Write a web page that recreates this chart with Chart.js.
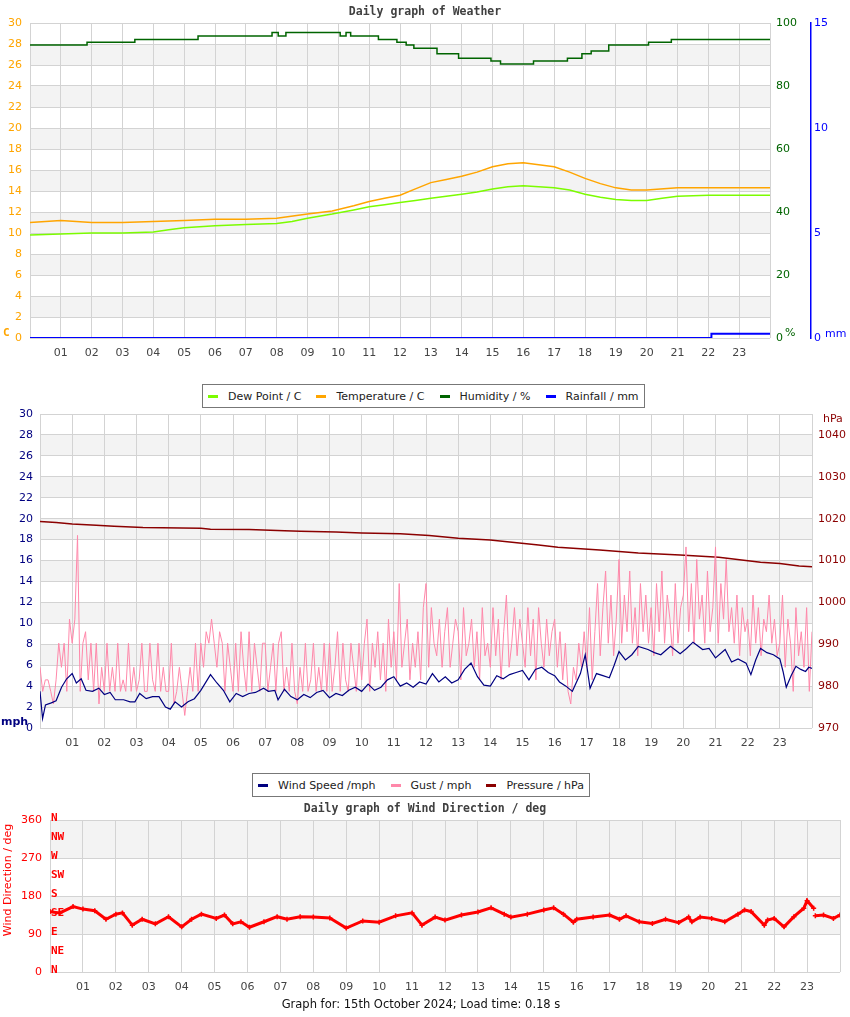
<!DOCTYPE html>
<html>
<head>
<meta charset="utf-8">
<title>Daily graph of Weather</title>
<script src="https://cdn.jsdelivr.net/npm/chart.js@4.4.1/dist/chart.umd.min.js"></script>
<style>
    body { margin: 0; background: #fff; width: 850px; height: 1017px; position: relative; overflow: hidden; font-family: "DejaVu Sans", sans-serif; }
    canvas { position: absolute; left: 0; }
    #weather { top: 0; }
    #wind { top: 400px; }
    #direction { top: 800px; }
    .legend { position: absolute; z-index: 2; height: 24px; box-sizing: border-box; border: 1px solid #777; background: #fff;
              display: flex; align-items: center; padding: 0 5px; font-size: 11px; color: #222; white-space: nowrap; }
    .legend .item { display: flex; align-items: center; margin-right: 15px; }
    .legend .item:last-child { margin-right: 0; }
    .legend .mark { width: 10px; height: 3px; margin-right: 10px; }
    #legendWeather { left: 202px; top: 384px; }
    #legendWind { left: 252px; top: 773px; }
</style>
</head>
<body>
<canvas id="weather" width="850" height="370"></canvas>
<canvas id="wind" width="850" height="360"></canvas>
<canvas id="direction" width="850" height="217"></canvas>
<div class="legend" id="legendWeather"></div>
<div class="legend" id="legendWind"></div>
<script>
// ---- data (hours since midnight) ----
const tempHours = [0, 1, 1.5, 2, 3, 4, 5, 6, 7, 8, 9, 9.8, 10.5, 11, 11.5, 12, 12.5, 13, 13.5, 14, 14.5, 15, 15.5, 16, 16.5, 17, 17.5, 18, 18.5, 19, 19.5, 20, 21, 22, 23, 24];
const temperature = [11.0, 11.2, 11.1, 11.0, 11.0, 11.1, 11.2, 11.3, 11.3, 11.4, 11.8, 12.1, 12.6, 13.0, 13.3, 13.6, 14.2, 14.8, 15.1, 15.4, 15.8, 16.3, 16.6, 16.7, 16.5, 16.3, 15.8, 15.2, 14.7, 14.3, 14.1, 14.1, 14.3, 14.3, 14.3, 14.3];

const dewHours = [0, 1, 2, 3, 4, 4.5, 5, 6, 7, 8, 8.5, 9, 9.8, 10.5, 11, 11.5, 12, 12.5, 13, 13.5, 14, 14.5, 15, 15.5, 16, 16.5, 17, 17.5, 18, 18.5, 19, 19.5, 20, 20.5, 21, 22, 23, 24];
const dewPoint = [9.8, 9.9, 10.0, 10.0, 10.1, 10.3, 10.5, 10.7, 10.8, 10.9, 11.1, 11.4, 11.8, 12.2, 12.5, 12.7, 12.9, 13.1, 13.3, 13.5, 13.7, 13.9, 14.2, 14.4, 14.5, 14.4, 14.3, 14.1, 13.7, 13.4, 13.2, 13.1, 13.1, 13.3, 13.5, 13.6, 13.6, 13.6];

const humHours = [0, 1.85, 3.4, 5.45, 7.85, 8.05, 8.3, 10.06, 10.25, 10.4, 11.3, 11.9, 12.2, 12.45, 13.2, 13.9, 14.95, 15.26, 16.33, 17.43, 17.9, 18.2, 18.77, 20.06, 20.8, 24];
const humidity = [93.0, 93.9, 94.8, 95.9, 97.0, 95.9, 97.0, 95.9, 97.0, 95.9, 94.8, 93.9, 93.0, 92.0, 90.2, 88.8, 87.9, 87.0, 87.9, 88.8, 90.2, 91.1, 93.0, 93.9, 94.8, 94.8];

const rainHours = [0, 22.1, 24];
const rainfall = [0, 0.2, 0.2];

const windHours = [0, 0.08, 0.17, 0.35, 0.5, 0.67, 0.83, 1.0, 1.13, 1.28,
    1.43, 1.63, 1.83, 2.0, 2.18, 2.34, 2.6, 2.8, 2.95, 3.1,
    3.3, 3.5, 3.7, 3.9, 4.05, 4.2, 4.4, 4.6, 4.8, 5.0,
    5.2, 5.3, 5.5, 5.7, 5.9, 6.1, 6.3, 6.5, 6.7, 6.95,
    7.1, 7.3, 7.4, 7.6, 7.8, 8.0, 8.2, 8.4, 8.6, 8.8,
    9.0, 9.2, 9.4, 9.6, 9.8, 10.0, 10.2, 10.4, 10.6, 10.8,
    11.0, 11.2, 11.4, 11.6, 11.8, 12.0, 12.2, 12.4, 12.6, 12.8,
    13.0, 13.2, 13.4, 13.6, 13.8, 14.0, 14.2, 14.4, 14.6, 14.8,
    15.0, 15.2, 15.4, 15.6, 15.8, 16.0, 16.15, 16.35, 16.55, 16.8,
    16.95, 17.1, 17.3, 17.5, 17.7, 17.85, 18.0, 18.2, 18.4, 18.6,
    18.9, 19.1, 19.3, 19.6, 19.9, 20.1, 20.3, 20.6, 20.8, 21.0,
    21.3, 21.5, 21.7, 21.95, 22.1, 22.25, 22.4, 22.6, 22.8, 23.0,
    23.1, 23.2, 23.35, 23.5, 23.65, 23.8, 23.9, 24.0];
const windSpeed = [3.5, 0.9, 2.2, 2.4, 2.6, 3.9, 4.7, 5.2, 4.3, 4.7,
    3.6, 3.5, 3.8, 3.2, 3.4, 2.7, 2.7, 2.5, 2.5, 3.3,
    2.8, 3.0, 3.0, 2.0, 1.8, 2.5, 2.0, 2.5, 2.8, 3.6,
    4.6, 5.1, 4.3, 3.6, 2.5, 3.3, 3.0, 3.3, 3.4, 3.8,
    3.5, 3.6, 2.7, 3.7, 3.0, 2.7, 3.2, 2.9, 3.4, 3.6,
    2.9, 3.3, 3.1, 3.6, 3.9, 3.5, 4.2, 3.6, 3.9, 4.6,
    4.9, 4.0, 4.3, 3.9, 4.4, 4.2, 5.2, 4.4, 4.9, 4.3,
    4.6, 5.6, 6.2, 4.9, 4.1, 4.0, 5.0, 4.7, 5.1, 5.3,
    5.5, 4.6, 5.6, 5.8, 5.3, 5.0, 4.4, 4.0, 3.5, 5.2,
    7.0, 3.8, 5.2, 5.0, 4.8, 6.0, 7.3, 6.5, 7.0, 7.8,
    7.5, 7.2, 7.0, 7.8, 7.1, 7.6, 8.2, 7.5, 7.6, 6.7,
    7.5, 6.3, 6.6, 6.2, 5.1, 6.5, 7.6, 7.2, 7.0, 6.6,
    5.4, 3.9, 5.0, 5.9, 5.6, 5.4, 5.8, 5.7];

// gust sampled every 5 minutes, one row per hour
const gustMinutes = 5;
const gust = [5.8, 3.5, 4.6, 4.6, 3.5, 2.3, 4.6, 8.1, 5.8, 8.1, 3.5, 10.4,
    8.1, 10.4, 18.4, 3.5, 8.1, 9.2, 4.6, 8.1, 3.5, 8.1, 2.3, 5.8,
    3.5, 8.1, 3.5, 5.8, 3.5, 8.1, 3.5, 4.6, 3.5, 8.1, 3.5, 5.8,
    3.5, 4.6, 8.1, 3.5, 3.5, 8.1, 4.6, 3.5, 8.1, 3.5, 5.8, 3.5,
    3.5, 8.1, 2.3, 3.5, 5.8, 3.5, 1.2, 3.5, 5.8, 3.5, 8.1, 3.5,
    8.1, 5.8, 9.2, 8.1, 10.4, 8.1, 5.8, 9.2, 8.1, 3.5, 8.1, 5.8,
    3.5, 8.1, 3.5, 9.2, 5.8, 3.5, 9.2, 3.5, 8.1, 5.8, 3.5, 8.1,
    8.1, 3.5, 5.8, 8.1, 3.5, 8.1, 9.2, 3.5, 5.8, 3.5, 8.1, 3.5,
    2.3, 5.8, 3.5, 8.1, 3.5, 4.6, 8.1, 3.5, 5.8, 3.5, 8.1, 3.5,
    8.1, 3.5, 5.8, 9.2, 3.5, 8.1, 4.6, 3.5, 8.1, 5.8, 3.5, 8.1,
    4.6, 8.1, 10.4, 3.5, 8.1, 5.8, 9.2, 4.6, 8.1, 3.5, 10.4, 5.8,
    9.2, 4.6, 13.8, 5.8, 8.1, 10.4, 4.6, 8.1, 5.8, 9.2, 4.6, 11.5,
    13.8, 5.8, 11.5, 8.1, 6.9, 10.4, 5.8, 9.2, 11.5, 5.8, 8.1, 10.4,
    9.2, 4.6, 11.5, 6.9, 8.1, 10.4, 5.8, 9.2, 4.6, 11.5, 6.9, 8.1,
    5.8, 11.5, 6.9, 10.4, 4.6, 9.2, 12.7, 5.8, 8.1, 11.5, 6.9, 10.4,
    8.1, 5.8, 11.5, 6.9, 10.4, 4.6, 11.5, 8.1, 5.8, 10.4, 6.9, 9.2,
    10.4, 5.8, 9.2, 4.6, 8.1, 3.5, 2.3, 5.8, 4.6, 8.1, 5.8, 9.2,
    5.8, 11.5, 4.6, 9.2, 13.8, 6.9, 11.5, 15.0, 8.1, 12.7, 6.9, 10.4,
    16.1, 8.1, 12.7, 9.2, 15.0, 8.1, 11.5, 6.9, 13.8, 9.2, 12.7, 8.1,
    11.5, 6.9, 13.8, 9.2, 15.0, 8.1, 12.7, 10.4, 6.9, 13.8, 8.1, 11.5,
    12.7, 17.3, 9.2, 13.8, 8.1, 16.1, 10.4, 12.7, 8.1, 15.0, 9.2, 11.5,
    17.3, 8.1, 13.8, 10.4, 16.1, 9.2, 11.5, 8.1, 12.7, 6.9, 11.5, 9.2,
    10.4, 6.9, 12.7, 8.1, 11.5, 6.9, 10.4, 9.2, 12.7, 8.1, 10.4, 6.9,
    8.1, 12.7, 5.8, 10.4, 8.1, 3.5, 11.5, 6.9, 9.2, 5.8, 11.5, 3.5,
    9.2];

const pressHours = [0, 0.5, 1, 1.75, 2.3, 3.2, 5, 5.3, 6.5, 7.6, 8.1, 9.2, 10, 11.2, 12.1, 13, 14, 14.9, 15.5, 16.1, 17.4, 18.6, 19.9, 21.1, 22.4, 23, 23.6, 24];
const pressure = [1019.3, 1019.1, 1018.7, 1018.4, 1018.2, 1017.9, 1017.7, 1017.5, 1017.4, 1017.1, 1017.0, 1016.8, 1016.6, 1016.4, 1016.0, 1015.3, 1014.9, 1014.2, 1013.7, 1013.2, 1012.5, 1011.8, 1011.3, 1010.8, 1009.6, 1009.3, 1008.7, 1008.5];

const dirHours = [0, 0.3, 0.7, 1.0, 1.36, 1.7, 2.0, 2.2, 2.5, 2.8, 3.2, 3.6, 4.0, 4.3, 4.6, 5.05, 5.3, 5.55, 5.8, 6.06,
    6.5, 6.9, 7.2, 7.6, 8.0, 8.5, 9.0, 9.5, 10.0, 10.5, 11.0, 11.3, 11.7, 12.0, 12.5, 13.0, 13.4, 13.8, 14.0, 14.5,
    15.0, 15.3, 15.6, 15.9, 16.0, 16.5, 17.0, 17.3, 17.5, 17.9, 18.3, 18.7, 19.1, 19.4, 19.5, 19.75, 20.1, 20.5, 20.9, 21.1,
    21.3, 21.7, 21.8, 22.0, 22.3, 22.6, 22.9, 23.0, 23.2, 23.22, 23.25, 23.5, 23.8, 24];
const direction = [143, 140, 155, 149, 145, 125, 137, 140, 111, 125, 114, 131, 107, 125, 137, 127, 135, 114, 119, 106,
    119, 131, 125, 131, 130, 128, 104, 121, 118, 133, 140, 111, 130, 123, 135, 142, 152, 137, 130, 137,
    147, 152, 137, 118, 125, 130, 135, 125, 133, 119, 115, 125, 117, 130, 119, 130, 127, 119, 137, 147,
    143, 111, 123, 127, 107, 131, 151, 169, 151, null, 133, 135, 127, 135];

const compassNames = ["N", "NE", "E", "SE", "S", "SW", "W", "NW", "N"];
const compassDegrees = [0, 45, 90, 135, 180, 225, 270, 315, 360];

const gridColor = "#d3d3d3";
const tickFont = { family: "DejaVu Sans", size: 11 };
const titleFont = "bold 11.5px 'DejaVu Sans Mono'";

window.onload = function() {
    const weather = initWeather();
    const wind = initWind();
    initDirection();
    buildLegend("legendWeather", weather);
    buildLegend("legendWind", wind);
}

function toPoints(xs, ys) {
    return xs.map((x, i) => ({ x: x, y: ys[i] }));
}

function hourAxis() {
    return {
        type: "linear", min: 0, max: 24,
        grid: { color: gridColor, drawTicks: false },
        border: { display: false },
        ticks: {
            stepSize: 1, autoSkip: false, maxRotation: 0, color: "#444", font: tickFont, padding: 9,
            callback: v => (v > 0 && v < 24) ? String(v).padStart(2, "0") : ""
        },
        afterFit: s => { s.height = 32; }
    };
}

function bandsPlugin(axisId) {
    return {
        id: "bands",
        beforeDraw(chart) {
            const scale = chart.scales[axisId];
            const area = chart.chartArea;
            const ctx = chart.ctx;
            ctx.save();
            ctx.fillStyle = "#f3f3f3";
            for (let i = 1; i < scale.ticks.length - 1; i += 2) {
                const y1 = scale.getPixelForValue(scale.ticks[i].value);
                const y2 = scale.getPixelForValue(scale.ticks[i + 1].value);
                ctx.fillRect(area.left, y2, area.right - area.left, y1 - y2);
            }
            ctx.restore();
        }
    };
}

function textPlugin(getItems) {
    return {
        id: "notes",
        afterDraw(chart) {
            const ctx = chart.ctx;
            getItems(chart).forEach(t => {
                ctx.save();
                ctx.font = t.font;
                ctx.fillStyle = t.color;
                ctx.textAlign = t.align || "left";
                ctx.textBaseline = "middle";
                ctx.translate(t.x, t.y);
                if (t.rotate) ctx.rotate(t.rotate);
                ctx.fillText(t.text, 0, 0);
                ctx.restore();
            });
        }
    };
}

function baseOptions(padding) {
    return {
        responsive: false,
        animation: false,
        events: [],
        layout: { padding: padding },
        plugins: { legend: { display: false }, tooltip: { enabled: false } }
    };
}

function initWeather() {
    const options = baseOptions({ top: 23, left: 0, right: 0, bottom: 0 });
    options.scales = {
        x: hourAxis(),
        yT: {
            position: "left", min: 0, max: 30,
            grid: { color: gridColor, drawTicks: false },
            border: { display: false },
            ticks: { stepSize: 2, color: "#FFA500", font: tickFont, padding: 8 },
            afterFit: s => { s.width = 30; }
        },
        yH: {
            position: "right", min: 0, max: 100,
            grid: { display: false, drawTicks: false },
            border: { display: false },
            ticks: { stepSize: 20, color: "#006400", font: tickFont, padding: 6 },
            afterFit: s => { s.width = 41; }
        },
        yR: {
            position: "right", min: 0, max: 15,
            grid: { display: false, drawTicks: false },
            border: { display: true, color: "#0000FF", width: 1.5 },
            ticks: { stepSize: 5, color: "#0000FF", font: tickFont, padding: 3 },
            afterFit: s => { s.width = 39; }
        }
    };
    const notes = textPlugin(() => [
        { text: "Daily graph of Weather", x: 425, y: 12, font: titleFont, color: "#404040", align: "center" },
        { text: "C", x: 3, y: 333, font: "bold 11px 'DejaVu Sans Mono'", color: "#FFA500" },
        { text: "%", x: 785, y: 333, font: "11px 'DejaVu Sans'", color: "#006400" },
        { text: "mm", x: 825, y: 334, font: "11px 'DejaVu Sans'", color: "#0000FF" }
    ]);
    return new Chart(document.getElementById("weather"), {
        type: "line",
        data: {
            datasets: [{
                label: "Dew Point / C", yAxisID: "yT",
                data: toPoints(dewHours, dewPoint),
                borderColor: "#7CFC00", backgroundColor: "#7CFC00", borderWidth: 1.5, pointRadius: 0
            }, {
                label: "Temperature / C", yAxisID: "yT",
                data: toPoints(tempHours, temperature),
                borderColor: "#FFA500", backgroundColor: "#FFA500", borderWidth: 1.5, pointRadius: 0
            }, {
                label: "Humidity / %", yAxisID: "yH",
                data: toPoints(humHours, humidity), stepped: "before",
                borderColor: "#006400", backgroundColor: "#006400", borderWidth: 1.5, pointRadius: 0
            }, {
                label: "Rainfall / mm", yAxisID: "yR",
                data: toPoints(rainHours, rainfall), stepped: "before",
                borderColor: "#0000FF", backgroundColor: "#0000FF", borderWidth: 2, pointRadius: 0
            }]
        },
        options: options,
        plugins: [bandsPlugin("yT"), notes]
    });
}

function initWind() {
    const options = baseOptions({ top: 14, left: 0, right: 0, bottom: 0 });
    options.scales = {
        x: hourAxis(),
        yW: {
            position: "left", min: 0, max: 30,
            grid: { color: gridColor, drawTicks: false },
            border: { display: false },
            ticks: { stepSize: 2, color: "#000080", font: tickFont, padding: 7 },
            afterFit: s => { s.width = 40; }
        },
        yP: {
            position: "right", min: 970, max: 1045,
            grid: { display: false, drawTicks: false },
            border: { display: false },
            ticks: { stepSize: 10, color: "#8B0000", font: tickFont, padding: 6,
                callback: v => v % 10 === 0 ? String(v) : "" },
            afterFit: s => { s.width = 38; }
        }
    };
    const notes = textPlugin(() => [
        { text: "mph", x: 1, y: 322, font: "bold 11px 'DejaVu Sans'", color: "#000080" },
        { text: "hPa", x: 823, y: 19, font: "11px 'DejaVu Sans'", color: "#8B0000" }
    ]);
    const gustHours = gust.map((g, i) => i * gustMinutes / 60);
    return new Chart(document.getElementById("wind"), {
        type: "line",
        data: {
            datasets: [{
                label: "Wind Speed /mph", yAxisID: "yW",
                data: toPoints(windHours, windSpeed),
                borderColor: "#000080", backgroundColor: "#000080", borderWidth: 1.2, pointRadius: 0
            }, {
                label: "Gust / mph", yAxisID: "yW",
                data: toPoints(gustHours, gust),
                borderColor: "#FF88AA", backgroundColor: "#FF88AA", borderWidth: 1, pointRadius: 0
            }, {
                label: "Pressure / hPa", yAxisID: "yP",
                data: toPoints(pressHours, pressure),
                borderColor: "#8B0000", backgroundColor: "#8B0000", borderWidth: 1.5, pointRadius: 0
            }]
        },
        options: options,
        plugins: [bandsPlugin("yW"), notes]
    });
}

function initDirection() {
    const options = baseOptions({ top: 20, left: 0, right: 10, bottom: 13 });
    options.scales = {
        x: hourAxis(),
        yD: {
            position: "left", min: 0, max: 360,
            grid: { color: gridColor, drawTicks: false },
            border: { display: false },
            ticks: { stepSize: 90, color: "#FF0000", font: tickFont, padding: 8 },
            afterFit: s => { s.width = 50; }
        }
    };
    const notes = textPlugin(chart => {
        const y = chart.scales.yD;
        const items = [
            { text: "Daily graph of Wind Direction / deg", x: 425, y: 9, font: titleFont, color: "#404040", align: "center" },
            { text: "Wind Direction / deg", x: 8, y: 80, font: "11px 'DejaVu Sans'", color: "#FF0000", align: "center", rotate: -Math.PI / 2 },
            { text: "Graph for: 15th October 2024; Load time: 0.18 s", x: 421, y: 205, font: "11.5px 'DejaVu Sans'", color: "#111", align: "center" }
        ];
        compassNames.forEach((name, i) => {
            items.push({ text: name, x: 51, y: y.getPixelForValue(compassDegrees[i]) - 2,
                font: "bold 11px 'DejaVu Sans Mono'", color: "#FF0000" });
        });
        return items;
    });
    return new Chart(document.getElementById("direction"), {
        type: "line",
        data: {
            datasets: [{
                label: "Wind Direction / deg", yAxisID: "yD",
                data: toPoints(dirHours, direction), spanGaps: false,
                borderColor: "#FF0000", backgroundColor: "#FF0000", borderWidth: 3,
                pointStyle: "cross", pointRadius: 2.5, pointBorderWidth: 1.5
            }]
        },
        options: options,
        plugins: [bandsPlugin("yD"), notes]
    });
}

function buildLegend(id, chart) {
    const box = document.getElementById(id);
    chart.data.datasets.forEach(ds => {
        const item = document.createElement("span");
        const mark = document.createElement("span");
        item.className = "item";
        mark.className = "mark";
        mark.style.background = ds.borderColor;
        item.appendChild(mark);
        item.appendChild(document.createTextNode(ds.label));
        box.appendChild(item);
    });
}
</script>
</body>
</html>
